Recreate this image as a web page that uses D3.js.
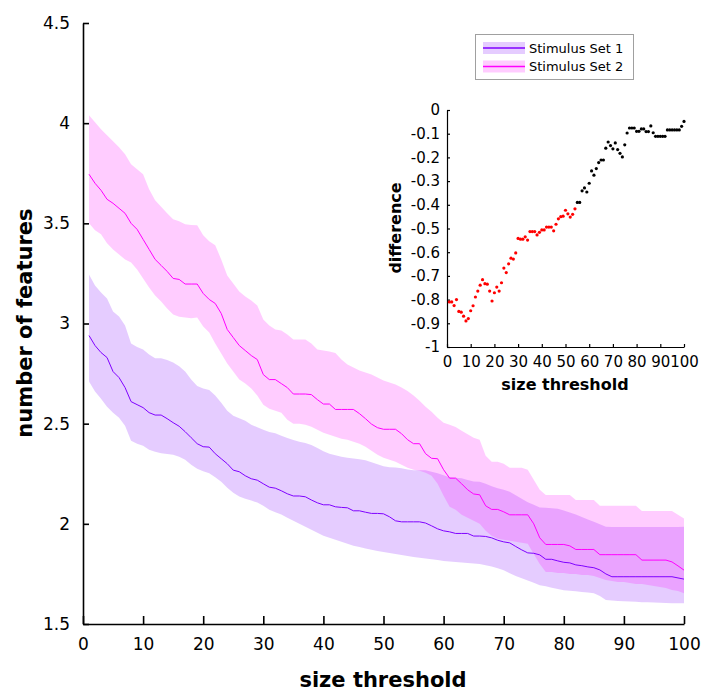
<!DOCTYPE html>
<html>
<head>
<meta charset="utf-8">
<script src="https://cdn.jsdelivr.net/npm/d3@7"></script>
<style>
  body { margin: 0; background: #fff; }
  text { font-family: "DejaVu Sans", sans-serif; }
</style>
</head>
<body>
<svg id="chart" width="702" height="691"></svg>
<script>
// size thresholds 1..100
var thresholds = d3.range(1, 101);

// Stimulus Set 1 (purple): mean, upper and lower edge of the band
var set1Mean = [2.94, 2.89, 2.855, 2.83, 2.76, 2.73, 2.68, 2.61, 2.595, 2.58,
  2.555, 2.543, 2.543, 2.525, 2.505, 2.487, 2.46, 2.43, 2.40, 2.385,
  2.383, 2.35, 2.325, 2.30, 2.268, 2.26, 2.24, 2.225, 2.218, 2.20,
  2.183, 2.178, 2.165, 2.15, 2.139, 2.139, 2.135, 2.119, 2.105, 2.095,
  2.095, 2.085, 2.082, 2.08, 2.065, 2.065, 2.058, 2.052, 2.052, 2.05,
  2.035, 2.015, 2.01, 2.01, 2.01, 2.01, 2.004, 1.99, 1.975, 1.965,
  1.96, 1.952, 1.952, 1.952, 1.939, 1.939, 1.937, 1.93, 1.918, 1.91,
  1.905, 1.887, 1.87, 1.855, 1.853, 1.845, 1.823, 1.823, 1.815, 1.808,
  1.805, 1.795, 1.791, 1.785, 1.781, 1.77, 1.75, 1.736, 1.736, 1.736,
  1.736, 1.736, 1.736, 1.736, 1.736, 1.736, 1.736, 1.736, 1.73, 1.724];
var set1Upper = [3.245, 3.19, 3.155, 3.125, 3.06, 3.035, 2.99, 2.90, 2.883, 2.87,
  2.845, 2.826, 2.826, 2.818, 2.805, 2.786, 2.76, 2.72, 2.688, 2.676,
  2.668, 2.64, 2.605, 2.565, 2.54, 2.527, 2.515, 2.495, 2.482, 2.47,
  2.458, 2.452, 2.44, 2.428, 2.418, 2.41, 2.403, 2.393, 2.379, 2.362,
  2.35, 2.342, 2.335, 2.33, 2.326, 2.322, 2.317, 2.307, 2.298, 2.287,
  2.283, 2.281, 2.277, 2.271, 2.268, 2.268, 2.267, 2.26, 2.252, 2.242,
  2.232, 2.23, 2.227, 2.219, 2.211, 2.21, 2.20, 2.188, 2.178, 2.17,
  2.16, 2.143, 2.125, 2.108, 2.095, 2.082, 2.08, 2.078, 2.075, 2.066,
  2.056, 2.046, 2.034, 2.022, 2.01, 1.998, 1.986, 1.984, 1.984, 1.984,
  1.984, 1.984, 1.984, 1.984, 1.984, 1.984, 1.984, 1.984, 1.984, 1.985];
var set1Lower = [2.71, 2.66, 2.625, 2.585, 2.555, 2.53, 2.49, 2.415, 2.40, 2.39,
  2.37, 2.36, 2.352, 2.348, 2.345, 2.335, 2.32, 2.295, 2.275, 2.262,
  2.253, 2.233, 2.21, 2.18, 2.155, 2.137, 2.125, 2.116, 2.106, 2.09,
  2.07, 2.058, 2.046, 2.03, 2.015, 2.0, 1.985, 1.97, 1.955, 1.94,
  1.93, 1.92, 1.91, 1.90, 1.89, 1.884, 1.877, 1.871, 1.865, 1.86,
  1.855, 1.85, 1.845, 1.84, 1.835, 1.831, 1.827, 1.823, 1.819, 1.815,
  1.812, 1.81, 1.807, 1.805, 1.802, 1.80, 1.793, 1.787, 1.778, 1.768,
  1.753, 1.74, 1.728, 1.717, 1.706, 1.694, 1.688, 1.681, 1.675, 1.669,
  1.666, 1.663, 1.66, 1.657, 1.654, 1.64, 1.62, 1.617, 1.615, 1.613,
  1.612, 1.611, 1.609, 1.608, 1.607, 1.606, 1.605, 1.604, 1.604, 1.603];

// Stimulus Set 2 (magenta)
var set2Mean = [3.745, 3.70, 3.665, 3.62, 3.60, 3.575, 3.55, 3.50, 3.47, 3.42,
  3.37, 3.32, 3.29, 3.26, 3.225, 3.22, 3.197, 3.197, 3.197, 3.15,
  3.12, 3.10, 3.05, 2.97, 2.93, 2.89, 2.865, 2.84, 2.82, 2.745,
  2.72, 2.72, 2.70, 2.68, 2.648, 2.648, 2.648, 2.645, 2.62, 2.598,
  2.598, 2.571, 2.571, 2.571, 2.571, 2.55, 2.525, 2.498, 2.48, 2.472,
  2.472, 2.472, 2.45, 2.42, 2.40, 2.40, 2.35, 2.327, 2.325, 2.27,
  2.228, 2.228, 2.20, 2.17, 2.149, 2.145, 2.09, 2.072, 2.072, 2.06,
  2.045, 2.045, 2.045, 2.045, 2.00, 1.93, 1.897, 1.897, 1.897, 1.897,
  1.89, 1.872, 1.872, 1.872, 1.872, 1.846, 1.846, 1.846, 1.846, 1.846,
  1.846, 1.846, 1.819, 1.819, 1.819, 1.819, 1.819, 1.81, 1.79, 1.769];
var set2Upper = [4.04, 4.005, 3.97, 3.94, 3.91, 3.88, 3.845, 3.795, 3.77, 3.745,
  3.67, 3.615, 3.583, 3.55, 3.52, 3.51, 3.495, 3.492, 3.49, 3.44,
  3.41, 3.39, 3.32, 3.24, 3.20, 3.16, 3.135, 3.115, 3.09, 3.02,
  2.99, 2.97, 2.965, 2.945, 2.92, 2.92, 2.92, 2.90, 2.87, 2.865,
  2.86, 2.853, 2.82, 2.795, 2.78, 2.766, 2.756, 2.746, 2.73, 2.715,
  2.705, 2.695, 2.68, 2.663, 2.64, 2.615, 2.585, 2.56, 2.53, 2.505,
  2.495, 2.483, 2.465, 2.447, 2.43, 2.42, 2.34, 2.31, 2.31, 2.30,
  2.28, 2.28, 2.28, 2.27, 2.22, 2.17, 2.144, 2.144, 2.144, 2.144,
  2.144, 2.119, 2.119, 2.119, 2.119, 2.09, 2.09, 2.09, 2.09, 2.09,
  2.09, 2.09, 2.064, 2.064, 2.064, 2.064, 2.064, 2.064, 2.045, 2.027];
var set2Lower = [3.50, 3.465, 3.445, 3.40, 3.37, 3.345, 3.32, 3.305, 3.27, 3.225,
  3.18, 3.14, 3.11, 3.075, 3.045, 3.034, 3.03, 3.026, 3.03, 2.985,
  2.955, 2.90, 2.85, 2.80, 2.76, 2.72, 2.70, 2.675, 2.64, 2.595,
  2.575, 2.565, 2.555, 2.52, 2.50, 2.50, 2.495, 2.485, 2.47, 2.455,
  2.445, 2.435, 2.425, 2.42, 2.41, 2.40, 2.385, 2.365, 2.345, 2.33,
  2.32, 2.31, 2.295, 2.28, 2.27, 2.265, 2.255, 2.24, 2.20, 2.14,
  2.085, 2.07, 2.045, 2.03, 2.015, 2.0, 1.965, 1.94, 1.925, 1.92,
  1.915, 1.91, 1.905, 1.90, 1.85, 1.80, 1.76, 1.76, 1.755, 1.755,
  1.75, 1.75, 1.745, 1.745, 1.74, 1.73, 1.72, 1.715, 1.71, 1.71,
  1.705, 1.70, 1.70, 1.695, 1.69, 1.685, 1.68, 1.67, 1.665, 1.653];

// inset: difference Set 1 - Set 2; red up to lastSignificant
var difference = [-0.81, -0.81, -0.825, -0.80, -0.85, -0.853, -0.87, -0.89, -0.88, -0.847,
  -0.826, -0.789, -0.764, -0.739, -0.716, -0.733, -0.735, -0.764, -0.806, -0.771,
  -0.747, -0.764, -0.729, -0.667, -0.686, -0.649, -0.625, -0.629, -0.603, -0.542,
  -0.545, -0.545, -0.535, -0.549, -0.513, -0.513, -0.513, -0.527, -0.516, -0.506,
  -0.506, -0.494, -0.494, -0.494, -0.510, -0.482, -0.459, -0.450, -0.448, -0.423,
  -0.438, -0.452, -0.440, -0.417, -0.39, -0.39, -0.341, -0.329, -0.346, -0.309,
  -0.257, -0.275, -0.247, -0.222, -0.211, -0.211, -0.161, -0.135, -0.150, -0.164,
  -0.139, -0.167, -0.183, -0.198, -0.147, -0.097, -0.076, -0.076, -0.076, -0.090,
  -0.090, -0.080, -0.080, -0.091, -0.091, -0.067, -0.096, -0.111, -0.111, -0.111,
  -0.111, -0.111, -0.084, -0.084, -0.084, -0.084, -0.084, -0.084, -0.069, -0.048];
var lastSignificant = 54;

var xTicks = [0, 10, 20, 30, 40, 50, 60, 70, 80, 90, 100];
var yTicks = [1.5, 2, 2.5, 3, 3.5, 4, 4.5];
var insetYTicks = [0, -0.1, -0.2, -0.3, -0.4, -0.5, -0.6, -0.7, -0.8, -0.9, -1];
var seriesNames = ["Stimulus Set 1", "Stimulus Set 2"];
var seriesColors = ["#7f00ff", "#ff00ff"];

function numLabel(d) {
  var v = Math.round(d * 10) / 10;
  if (v === 0) v = 0;
  return String(v);
}

const svg = d3.select("#chart");

// main plot
const x = d3.scaleLinear().domain([0, 100]).range([83, 684]);
const y = d3.scaleLinear().domain([1.5, 4.5]).range([624, 23]);

const series = [
  { mean: set1Mean, upper: set1Upper, lower: set1Lower, color: seriesColors[0] },
  { mean: set2Mean, upper: set2Upper, lower: set2Lower, color: seriesColors[1] }
];

series.forEach(function(s) {
  const area = d3.area()
    .x((d, i) => x(thresholds[i]))
    .y0((d, i) => y(s.lower[i]))
    .y1((d, i) => y(s.upper[i]));
  svg.append("path")
    .attr("d", area(s.mean))
    .attr("fill", s.color)
    .attr("fill-opacity", 0.2);
});

series.forEach(function(s) {
  const line = d3.line()
    .x((d, i) => x(thresholds[i]))
    .y(d => y(d));
  svg.append("path")
    .attr("d", line(s.mean))
    .attr("fill", "none")
    .attr("stroke", s.color)
    .attr("stroke-width", 1);
});

const xAxis = svg.append("g")
  .attr("transform", "translate(0,624)")
  .call(d3.axisBottom(x).tickValues(xTicks).tickFormat(numLabel)
    .tickSizeInner(-8).tickSizeOuter(0).tickPadding(14));
const yAxis = svg.append("g")
  .attr("transform", "translate(83,0)")
  .call(d3.axisLeft(y).tickValues(yTicks).tickFormat(numLabel)
    .tickSizeInner(-6).tickSizeOuter(0).tickPadding(13));
[xAxis, yAxis].forEach(function(g) {
  g.select(".domain").attr("stroke", "#000").attr("stroke-width", 1.6);
  g.selectAll(".tick line").attr("stroke", "#000").attr("stroke-width", 1.6);
  g.selectAll(".tick text").attr("fill", "#000")
    .style("font-family", "DejaVu Sans").style("font-size", "17px");
});

svg.append("text")
  .attr("x", 383).attr("y", 687)
  .attr("text-anchor", "middle")
  .style("font-size", "21px").style("font-weight", "bold")
  .text("size threshold");
svg.append("text")
  .attr("transform", "translate(32,323) rotate(-90)")
  .attr("text-anchor", "middle")
  .style("font-size", "21px").style("font-weight", "bold")
  .text("number of features");

// legend
const legend = svg.append("g").attr("transform", "translate(475,34)");
legend.append("rect")
  .attr("x", 0.5).attr("y", 0.5).attr("width", 158).attr("height", 45)
  .attr("fill", "#fff").attr("stroke", "#a0a0a0").attr("stroke-width", 1);
seriesNames.forEach(function(name, i) {
  const cy = 14 + i * 18.5;
  legend.append("rect")
    .attr("x", 8).attr("y", cy - 6).attr("width", 42).attr("height", 12)
    .attr("fill", seriesColors[i]).attr("fill-opacity", 0.2);
  legend.append("line")
    .attr("x1", 8).attr("x2", 50).attr("y1", cy).attr("y2", cy)
    .attr("stroke", seriesColors[i]).attr("stroke-width", 1.5);
  legend.append("text")
    .attr("x", 54).attr("y", cy + 4.5)
    .style("font-size", "13px")
    .text(name);
});

// inset
const xi = d3.scaleLinear().domain([0, 100]).range([447, 684]);
const yi = d3.scaleLinear().domain([-1, 0]).range([347, 110]);

const xiAxis = svg.append("g")
  .attr("transform", "translate(0,347)")
  .call(d3.axisBottom(xi).tickValues(xTicks).tickFormat(numLabel)
    .tickSizeInner(-3).tickSizeOuter(0).tickPadding(9));
const yiAxis = svg.append("g")
  .attr("transform", "translate(447,0)")
  .call(d3.axisLeft(yi).tickValues(insetYTicks).tickFormat(numLabel)
    .tickSizeInner(-3).tickSizeOuter(0).tickPadding(7));
[xiAxis, yiAxis].forEach(function(g) {
  g.select(".domain").attr("stroke", "#000").attr("stroke-width", 1.2);
  g.selectAll(".tick line").attr("stroke", "#000").attr("stroke-width", 1.2);
  g.selectAll(".tick text").attr("fill", "#000")
    .style("font-family", "DejaVu Sans").style("font-size", "15px");
});

svg.append("g").selectAll("circle")
  .data(difference)
  .join("circle")
  .attr("cx", (d, i) => xi(thresholds[i]))
  .attr("cy", d => yi(d))
  .attr("r", 1.6)
  .attr("fill", (d, i) => thresholds[i] <= lastSignificant ? "#ff0000" : "#000");

svg.append("text")
  .attr("x", 565).attr("y", 390)
  .attr("text-anchor", "middle")
  .style("font-size", "16px").style("font-weight", "bold")
  .text("size threshold");
svg.append("text")
  .attr("transform", "translate(401,228) rotate(-90)")
  .attr("text-anchor", "middle")
  .style("font-size", "16px").style("font-weight", "bold")
  .text("difference");
</script>
</body>
</html>
